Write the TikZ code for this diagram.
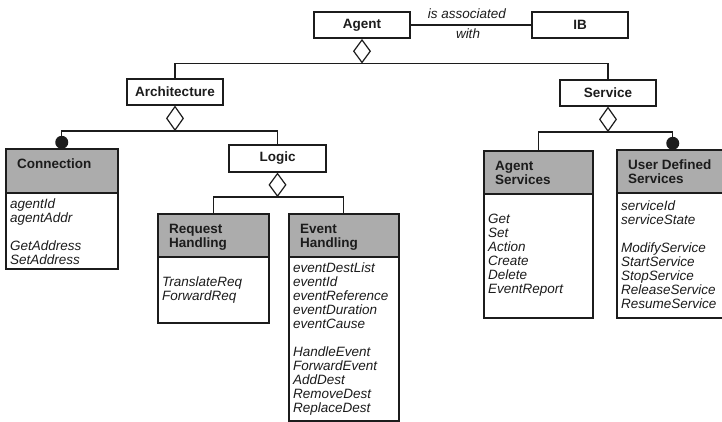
\documentclass[tikz,border=0pt]{standalone}
\usepackage{fontspec}
\setmainfont{Liberation Sans}
\usetikzlibrary{shapes.geometric}
\definecolor{headgray}{RGB}{172,172,172}
\definecolor{ink}{RGB}{28,28,28}

\begin{document}
\begin{tikzpicture}[x=1pt,y=-1pt,
  basefont/.style={font=\fontsize{13.5}{14}\selectfont},
  topbox/.style={draw=ink, line width=2.2pt, fill=white, minimum width=96pt, minimum height=26pt,
                 inner sep=0pt, text=ink, font=\fontsize{13.5}{14}\selectfont\bfseries},
  midbox/.style={draw=ink, line width=1.5pt, fill=white, minimum width=96pt, minimum height=26pt,
                 inner sep=0pt, text=ink, font=\fontsize{13.5}{14}\selectfont\bfseries},
  assoc/.style={text=ink, inner sep=0pt, font=\fontsize{13.5}{14}\selectfont\itshape},
  agg/.style={diamond, draw=ink, line width=1.2pt, fill=white, minimum width=17pt,
              minimum height=23pt, inner sep=0pt},
  compdot/.style={circle, fill=ink, minimum size=13pt, inner sep=0pt},
  wire/.style={draw=ink, line width=1.2pt},
  classhead/.style={draw=ink, line width=1.5pt, fill=headgray, anchor=north west,
                    minimum height=43pt, inner sep=0pt},
  classbody/.style={draw=ink, line width=1.5pt, fill=white, anchor=north west, inner sep=0pt},
  classname/.style={anchor=north west, inner sep=0pt, align=left, text=ink,
                    font=\fontsize{13.5}{14}\selectfont\bfseries},
  members/.style={anchor=north west, inner sep=0pt, align=left, text=ink,
                  font=\fontsize{13.5}{14}\selectfont\itshape},
]
\useasboundingbox (0,0) rectangle (722,421);
\fill[white] (0,0) rectangle (722,421);
\clip (0,0) rectangle (722,421);

% top level: Agent and its information base
\node[topbox] (agent) at (362,25) {Agent};
\node[topbox] (ib) at (580,25) {IB};
\draw[wire] (agent) -- (ib);
\node[assoc] (assocA) at (467,14) {is associated};
\node[assoc] (assocB) at (468,34) {with};

% second level
\node[midbox] (arch) at (175,92) {Architecture};
\node[midbox] (serv) at (608,93) {Service};
\node[agg, anchor=north] (dAgent) at (agent.south) {};
\draw[wire] (arch.north) |- (dAgent.south) -| (serv.north);

% Architecture part
\node[midbox, minimum width=97pt, minimum height=27pt] (logic) at (277.5,158.5) {Logic};
\node[agg, minimum height=24pt, anchor=north] (dArch) at (arch.south) {};

\node[classhead, minimum width=112pt, minimum height=44pt] (conHead) at (5,148) {};
\node[classbody, minimum width=112pt, minimum height=76pt] (conBody) at (5,192) {};
\node[classname] (conTitle) at (17,158) {\strut Connection};
\node[members] (conText) at (10,198)
  {\strut agentId\\ agentAddr\\[14pt] GetAddress\\ SetAddress};
\node[compdot, anchor=south] (conDot) at ([yshift=-1pt]conHead.north) {};
\draw[wire] (conDot.north) |- (dArch.south) -| (logic.north);

% Logic part
\node[agg, anchor=north] (dLogic) at (logic.south) {};

\node[classhead, minimum width=111pt] (reqHead) at (157,213) {};
\node[classbody, minimum width=111pt, minimum height=66pt] (reqBody) at (157,256) {};
\node[classname] (reqTitle) at (169,223) {\strut Request\\ Handling};
\node[members] (reqText) at (162,276) {\strut TranslateReq\\ ForwardReq};

\node[classhead, minimum width=110pt] (evtHead) at (288,213) {};
\node[classbody, minimum width=110pt, minimum height=164pt] (evtBody) at (288,256) {};
\node[classname] (evtTitle) at (300,223) {\strut Event\\ Handling};
\node[members] (evtText) at (293,262)
  {\strut eventDestList\\ eventId\\ eventReference\\ eventDuration\\ eventCause\\[14pt]
   HandleEvent\\ ForwardEvent\\ AddDest\\ RemoveDest\\ ReplaceDest};

\draw[wire] (reqHead.north) |- (dLogic.south) -| (evtHead.north);

% Service part
\node[agg, minimum height=24pt, anchor=north] (dServ) at (serv.south) {};

\node[classhead, minimum width=109pt] (asvHead) at (483,150) {};
\node[classbody, minimum width=109pt, minimum height=124pt] (asvBody) at (483,193) {};
\node[classname] (asvTitle) at (495,160) {\strut Agent\\ Services};
\node[members] (asvText) at (488,213)
  {\strut Get\\ Set\\ Action\\ Create\\ Delete\\ EventReport};

\node[classhead, minimum width=112pt] (udsHead) at (616,149) {};
\node[classbody, minimum width=112pt, minimum height=125pt] (udsBody) at (616,192) {};
\node[classname] (udsTitle) at (628,159) {\strut User Defined\\ Services};
\node[members] (udsText) at (621,200)
  {\strut serviceId\\ serviceState\\[14pt] ModifyService\\ StartService\\ StopService\\
   ReleaseService\\ ResumeService};
\node[compdot, anchor=south] (udsDot) at ([yshift=-1pt]udsHead.north) {};

\draw[wire] (asvHead.north) |- (dServ.south) -| (udsDot.north);
\end{tikzpicture}
\end{document}
